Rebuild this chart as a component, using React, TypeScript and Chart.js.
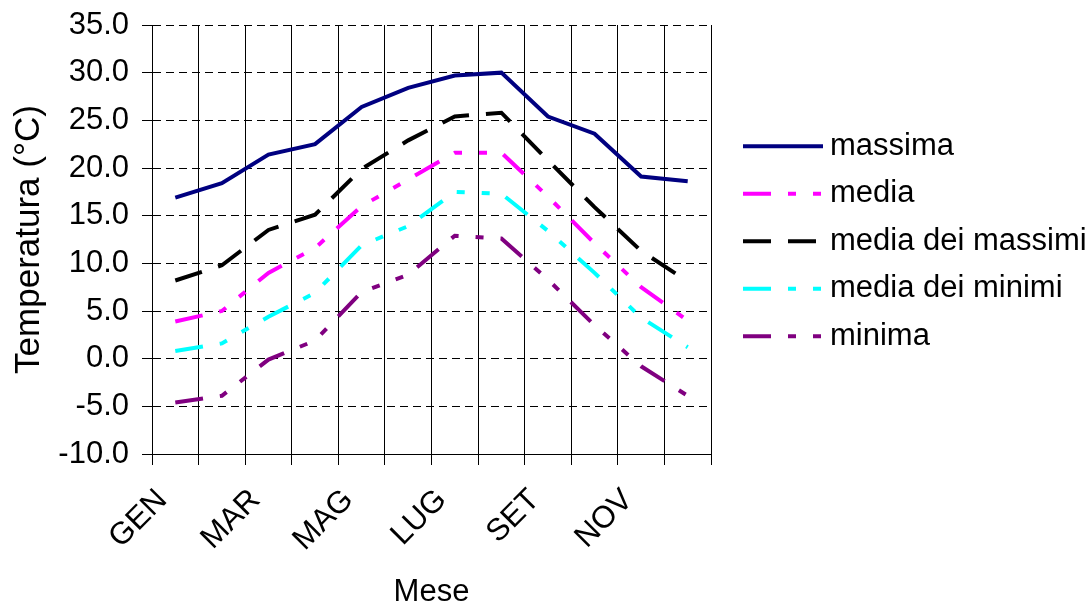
import React, { useEffect, useRef } from 'react';
import { Chart, registerables } from 'chart.js';

Chart.register(...registerables);

const months = ['GEN', 'FEB', 'MAR', 'APR', 'MAG', 'GIU', 'LUG', 'AGO', 'SET', 'OTT', 'NOV', 'DIC'];
const massima = [16.9, 18.4, 21.4, 22.5, 26.4, 28.4, 29.7, 30.0, 25.4, 23.6, 19.1, 18.6];
const media = [3.9, 5.0, 9.0, 11.6, 16.0, 18.8, 21.6, 21.6, 17.0, 12.1, 7.5, 4.0];
const mediaDeiMassimi = [8.2, 9.8, 13.5, 15.1, 19.9, 22.9, 25.4, 25.8, 20.8, 15.9, 11.3, 8.1];
const mediaDeiMinimi = [0.8, 1.6, 4.4, 6.9, 11.9, 13.9, 17.5, 17.3, 13.4, 9.0, 4.3, 1.2];
const minima = [-4.6, -3.9, -0.1, 1.9, 7.0, 8.8, 12.9, 12.6, 8.3, 3.5, -0.8, -3.9];
const seriesNames = ['massima', 'media', 'media dei massimi', 'media dei minimi', 'minima'];

const FONT = '"Liberation Sans", Arial, Helvetica, sans-serif';
const DASH_DOT_DOT = [28, 17, 8, 17, 8, 17];
const LONG_DASH = [28, 17];

const sideLegend = {
  id: 'sideLegend',
  afterDraw(chart: any, _args: any, opts: any) {
    const { ctx, chartArea } = chart;
    const x0 = chartArea.right + opts.offsetX;
    const midY = (chartArea.top + chartArea.bottom) / 2 + opts.offsetY;
    const n = chart.data.datasets.length;
    ctx.save();
    chart.data.datasets.forEach((ds: any, i: number) => {
      const y = midY + (i - (n - 1) / 2) * opts.spacing;
      ctx.beginPath();
      ctx.setLineDash(ds.borderDash || []);
      ctx.lineWidth = ds.borderWidth;
      ctx.strokeStyle = ds.borderColor;
      ctx.lineCap = 'butt';
      ctx.moveTo(x0, y);
      ctx.lineTo(x0 + opts.lineLength, y);
      ctx.stroke();
      ctx.setLineDash([]);
      ctx.fillStyle = '#000';
      ctx.font = `${opts.fontSize}px ${FONT}`;
      ctx.textAlign = 'left';
      ctx.textBaseline = 'middle';
      ctx.fillText(ds.label, x0 + opts.lineLength + opts.textGap, y);
    });
    ctx.restore();
  },
};

export default function App() {
  const canvasRef = useRef<HTMLCanvasElement | null>(null);

  useEffect(() => {
    if (!canvasRef.current) return;
    Chart.defaults.font.family = FONT;
    Chart.defaults.color = '#000';
    const chart = new Chart(canvasRef.current, {
      type: 'line',
      data: {
        labels: months,
        datasets: [
          { label: seriesNames[0], data: massima, borderColor: '#000080', backgroundColor: '#000080', borderWidth: 4, borderDash: [], pointRadius: 0, tension: 0 },
          { label: seriesNames[1], data: media, borderColor: '#FF00FF', backgroundColor: '#FF00FF', borderWidth: 4, borderDash: DASH_DOT_DOT, pointRadius: 0, tension: 0 },
          { label: seriesNames[2], data: mediaDeiMassimi, borderColor: '#000000', backgroundColor: '#000000', borderWidth: 4, borderDash: LONG_DASH, pointRadius: 0, tension: 0 },
          { label: seriesNames[3], data: mediaDeiMinimi, borderColor: '#00FFFF', backgroundColor: '#00FFFF', borderWidth: 4, borderDash: DASH_DOT_DOT, pointRadius: 0, tension: 0 },
          { label: seriesNames[4], data: minima, borderColor: '#800080', backgroundColor: '#800080', borderWidth: 4, borderDash: DASH_DOT_DOT, pointRadius: 0, tension: 0 },
        ],
      },
      options: {
        responsive: false,
        animation: false,
        layout: { padding: { top: 25, right: 377, left: 0, bottom: 0 } },
        plugins: {
          legend: { display: false },
          tooltip: { enabled: false },
          sideLegend: { offsetX: 32, offsetY: 1.8, spacing: 47.5, lineLength: 80, textGap: 7, fontSize: 31 },
        } as any,
        scales: {
          x: {
            type: 'category',
            offset: true,
            grid: { display: true, offset: true, color: '#000', lineWidth: 1, tickLength: 11, tickColor: '#000' },
            border: { display: true, color: '#000', width: 1 },
            ticks: {
              autoSkip: false,
              maxRotation: 45,
              minRotation: 45,
              padding: 17,
              labelOffset: -13,
              font: { size: 31 },
              color: '#000',
              callback: (_v: any, i: number) => (i % 2 === 0 ? months[i] : ''),
            },
            title: { display: true, text: 'Mese', font: { size: 31, lineHeight: 1 }, color: '#000', padding: { top: 0, bottom: -4 } },
            afterFit: (scale: any) => { scale.height = 150; },
          },
          y: {
            min: -10,
            max: 35,
            grid: { color: '#000', lineWidth: 1, tickLength: 10, tickColor: '#000', tickBorderDash: [] },
            border: { display: true, color: '#000', width: 1, dash: [8, 5] },
            ticks: {
              stepSize: 5,
              padding: 13,
              font: { size: 31, lineHeight: 0.6 },
              color: '#000',
              callback: (v: any) => Number(v).toFixed(1),
            },
            title: { display: true, text: 'Temperatura (°C)', font: { size: 35, lineHeight: 1.2 }, color: '#000', padding: { top: 8, bottom: 0 } },
            afterFit: (scale: any) => { scale.width = 152; },
          },
        },
      },
      plugins: [sideLegend],
    } as any);
    return () => chart.destroy();
  }, []);

  return (
    <div style={{ position: 'fixed', left: 0, top: 0, width: 1088, height: 604, background: '#fff' }}>
      <canvas ref={canvasRef} width={1088} height={604} />
    </div>
  );
}
